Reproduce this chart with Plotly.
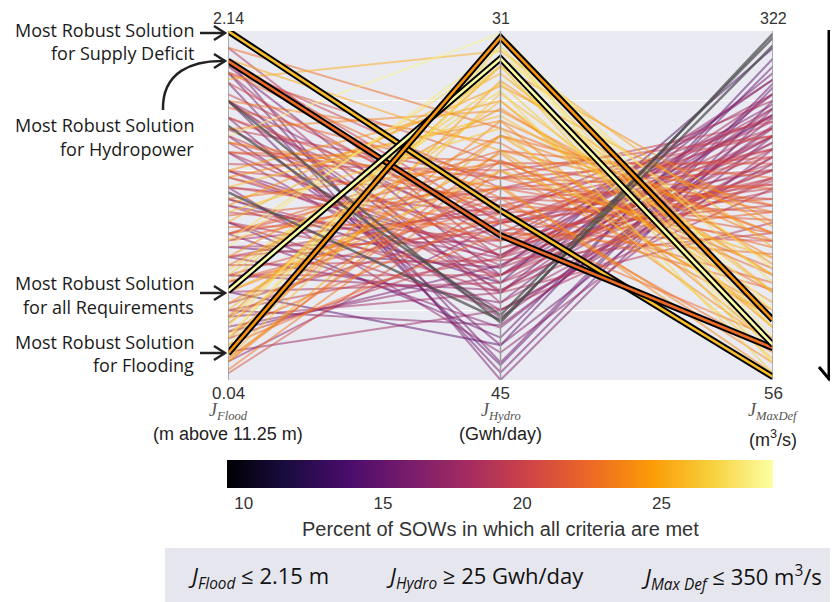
import plotly.graph_objects as go
from plotly.colors import sample_colorscale

# page is 838x602; the page body adds an 8px margin, so the figure itself is 830x594
OFF = 8
W, H = 838 - OFF, 602 - OFF

# ---------------- data ----------------
axis_labels = ["Flood", "Hydro", "MaxDef"]
axis_units = ["(m above 11.25 m)", "(Gwh/day)", "(m<sup>3</sup>/s)"]
axis_bottom = [0.04, 45, 56]     # value at the bottom of each axis (preferred end)
axis_top = [2.14, 31, 322]       # value at the top of each axis

flood = [0.40, 0.30, 0.67, 0.46, 0.25, 0.99, 1.20, 0.84, 0.15, 0.70, 1.97, 0.57, 0.36, 1.05, 1.51, 1.85,
         0.78, 0.29, 1.30, 1.72, 0.50, 0.88, 0.21, 1.13, 1.47, 2.04, 0.63, 0.42, 0.96, 1.55, 0.10, 1.26,
         1.89, 0.73, 0.33, 1.09, 1.41, 0.57, 1.68, 0.25, 0.92,
         1.20, 1.51, 0.67, 1.83, 0.99, 1.34, 0.46, 1.62, 0.84, 1.93, 1.09, 1.41, 0.63, 1.72, 1.03, 1.26,
         0.78, 2.04, 0.92, 0.29, 1.47, 1.13, 0.57, 1.76, 1.30, 0.73, 1.55, 1.05, 1.89, 0.88,
         1.89, 1.97, 0.99, 1.51, 0.78, 1.20, 1.72, 0.92, 0.36, 0.57, 1.41, 1.83, 1.93, 0.67, 1.72, 0.46,
         1.62, 0.84, 0.21, 1.13, 1.30, 0.15, 0.33, 0.08, 0.17, 0.42,
         1.30, 1.62, 0.78, 1.89, 1.09, 0.50, 1.47, 0.92, 1.72, 0.67, 1.20, 1.97, 0.42, 1.41, 0.99, 1.55,
         0.29, 0.63, 0.17, 0.88, 0.38, 1.26, 0.15]
hydro = [32.4, 31.3, 33.1, 33.8, 32.1, 32.7, 34.4, 31.7, 35.2, 33.4, 35.8, 36.6, 31.4, 34.9, 31.1, 31.8,
         34.1, 34.6, 33.8, 35.5, 35.9, 36.9, 33.0, 36.3, 37.3, 34.9, 38.0, 32.4, 38.7, 34.2, 36.6, 39.4,
         37.7, 35.2, 38.3, 33.2, 36.2, 37.2, 36.9, 39.1, 35.8,
         38.7, 39.7, 37.7, 39.1, 40.8, 36.6, 40.1, 38.3, 39.4, 37.3, 41.5, 40.4, 38.6, 41.1, 37.3, 40.0,
         39.0, 40.1, 36.3, 39.7, 38.0, 40.5, 41.1, 38.6, 37.7, 40.2, 36.9, 39.4, 36.3, 38.3,
         44.3, 45.0, 43.3, 42.5, 41.9, 43.9, 41.5, 42.9, 40.8, 43.6, 42.2, 44.7, 40.8, 41.4, 44.4, 42.8,
         43.6, 40.5, 42.2, 41.1, 40.0, 38.7, 40.4, 37.7, 36.2, 37.3,
         40.8, 39.1, 38.0, 41.9, 40.1, 38.7, 41.4, 37.3, 39.4, 40.8, 38.3, 38.7, 41.5, 36.9, 42.2, 40.0,
         31.6, 32.4, 33.5, 32.0, 35.2, 34.6, 35.8]
maxdef = [83, 69, 96, 109, 77, 123, 136, 88, 115, 61, 104, 149, 130, 72, 109, 157,
          136, 162, 96, 123, 83, 157, 144, 109, 69, 168, 130, 176, 88, 149, 104, 184,
          77, 189, 125, 173, 141, 61, 202, 152, 210,
          202, 221, 184, 162, 232, 242, 210, 194, 253, 216, 176, 237, 226, 208, 168, 263,
          189, 248, 221, 200, 178, 216, 242, 232, 205, 168, 253, 210, 189, 269,
          282, 263, 295, 248, 274, 232, 290, 256, 242, 301, 221, 269, 258, 237, 279, 250,
          242, 285, 226, 309, 266, 216, 258, 162, 136, 194,
          274, 258, 232, 226, 285, 248, 210, 242, 274, 216, 256, 205, 263, 226, 202, 242,
          96, 69, 123, 141, 168, 83, 184]
score = [27, 28, 26.5, 26, 27.5, 25.5, 26, 28, 25, 27, 25, 25.5, 27.5, 26.5, 28.5, 25.5,
         24, 23.5, 24.5, 23, 24, 22.5, 24.5, 23, 23.5, 22.5, 22, 24, 22.5, 23.5, 23, 22,
         22.5, 23, 22.5, 24.5, 22, 24, 22, 22.5, 22,
         20, 19.5, 21, 20.5, 19, 20, 19.5, 21, 18.5, 20, 19, 18.5, 20.5, 19, 21.5, 18,
         20, 19, 21, 19.5, 21.5, 19, 18.5, 20, 20.5, 19.5, 19.5, 20, 21, 18.5,
         15.5, 16, 15, 16.5, 16, 17, 15.5, 16.5, 17, 14.5, 17, 15.5, 16, 17, 15, 16.5,
         16, 15.5, 17.5, 14, 16.5, 17.5, 16, 21, 22.5, 20.5,
         18, 18.5, 19.5, 18, 17.5, 19, 19, 20, 17.5, 19.5, 19, 20, 18, 20.5, 18.5, 19,
         27, 26.5, 26, 27.5, 23.5, 24, 23]

gray_flood = [1.72, 1.57, 1.17]
gray_hydro = [42.7, 42.4, 42.6]
gray_maxdef = [320, 317, 311]

hl_names = ["Supply Deficit", "Hydropower", "all Requirements", "Flooding"]
hl_flood = [2.14, 1.96, 0.575, 0.20]
hl_hydro = [38.2, 39.2, 32.1, 31.25]
hl_maxdef = [58.3, 80.4, 82.7, 101.7]
hl_score = [26.0, 22.5, 29.0, 24.3]

score_min, score_max = 9.4, 29.0
cbar_ticks = [10, 15, 20, 25]

# ---------------- helpers ----------------
def norm(vals):
    return [(v - b) / (t - b) for v, b, t in zip(vals, axis_bottom, axis_top)]

def col(s):
    return sample_colorscale("Inferno", [(s - score_min) / (score_max - score_min)])[0]

def px(x):   # page pixel -> paper fraction
    return (x - OFF) / W

def py(y):
    return 1 - (y - OFF) / H

fig = go.Figure()
X = [0, 1, 2]

order = sorted(range(len(score)), key=lambda i: score[i])
for i in order:
    fig.add_trace(go.Scatter(x=X, y=norm([flood[i], hydro[i], maxdef[i]]), mode="lines",
                             line=dict(color=col(score[i]), width=2), opacity=0.5,
                             hoverinfo="skip", showlegend=False))
for i in range(len(gray_flood)):
    fig.add_trace(go.Scatter(x=X, y=norm([gray_flood[i], gray_hydro[i], gray_maxdef[i]]), mode="lines",
                             line=dict(color="#4a4a4a", width=2.5), opacity=0.7,
                             hoverinfo="skip", showlegend=False))
for i in range(len(hl_flood)):
    yy = norm([hl_flood[i], hl_hydro[i], hl_maxdef[i]])
    fig.add_trace(go.Scatter(x=X, y=yy, mode="lines", line=dict(color="black", width=6.5),
                             hoverinfo="skip", showlegend=False))
    fig.add_trace(go.Scatter(x=X, y=yy, mode="lines", line=dict(color=col(hl_score[i]), width=2.6),
                             name=hl_names[i], showlegend=False))

# colorbar carrier (point kept outside the visible range)
fig.add_trace(go.Scatter(x=[1], y=[-5], mode="markers", hoverinfo="skip", showlegend=False,
                         marker=dict(color=[20], colorscale="Inferno", cmin=score_min, cmax=score_max,
                                     size=1, showscale=True,
                                     colorbar=dict(orientation="h", x=px(227), xanchor="left",
                                                   y=py(460), yanchor="top", len=546, lenmode="pixels",
                                                   thickness=28, thicknessmode="pixels", outlinewidth=0,
                                                   xpad=0, ypad=0, tickvals=cbar_ticks, ticks="",
                                                   tickfont=dict(family="Liberation Sans", size=17,
                                                                 color="#333")))))

shapes = []
for xi in X:
    shapes.append(dict(type="line", xref="x", yref="y", x0=xi, x1=xi, y0=0, y1=1,
                       line=dict(color="#9a9a9a", width=1.5), layer="above"))

ann = []
num_font = dict(family="Liberation Sans", size=16, color="#333")
for xi in X:
    ann.append(dict(x=xi, y=1, xref="x", yref="y", text=f"{axis_top[xi]:g}", showarrow=False,
                    xanchor="center", yanchor="middle", yshift=12, font=num_font))
    ann.append(dict(x=xi, y=0, xref="x", yref="y", text=f"{axis_bottom[xi]:g}", showarrow=False,
                    xanchor="center", yanchor="middle", yshift=-13,
                    font=dict(family="Liberation Sans", size=17, color="#333")))
    ann.append(dict(x=xi, y=0, xref="x", yref="y",
                    text=f"<i>J</i><sub><i>{axis_labels[xi]}</i></sub>", showarrow=False,
                    xanchor="center", yanchor="middle", yshift=-31, borderpad=0,
                    font=dict(family="Liberation Serif", size=18, color="#555")))
    ann.append(dict(x=xi, y=0, xref="x", yref="y", text=axis_units[xi], showarrow=False,
                    xanchor="center", yanchor="middle", yshift=-54 - (4 if xi == 2 else 0),
                    borderpad=0, font=dict(family="Liberation Sans", size=18, color="#222")))

left_font = dict(family="Open Sans", size=18, color="#1a1a1a")
left_lines = [("Most Robust Solution", 30), ("for Supply Deficit", 53),
              ("Most Robust Solution", 125), ("for Hydropower", 149),
              ("Most Robust Solution", 283), ("for all Requirements", 307),
              ("Most Robust Solution", 342), ("for Flooding", 365)]
for t, yv in left_lines:
    ann.append(dict(x=px(196), y=py(yv), xref="paper", yref="paper", text=t, showarrow=False,
                    xanchor="right", yanchor="middle", font=left_font))

arrow_line = dict(color="#222", width=2.5)
for yv in [33, 293, 353]:
    shapes.append(dict(type="line", xref="paper", yref="paper", x0=px(200), x1=px(225),
                       y0=py(yv), y1=py(yv), line=arrow_line))
    shapes.append(dict(type="path", xref="paper", yref="paper",
                       path=f"M {px(214)},{py(yv-7)} L {px(225)},{py(yv)} L {px(214)},{py(yv+7)}",
                       line=arrow_line))
# curved arrow for hydropower
shapes.append(dict(type="path", xref="paper", yref="paper",
                   path=f"M {px(163)},{py(110)} C {px(162)},{py(72)} {px(192)},{py(60)} {px(225)},{py(61)}",
                   line=arrow_line))
shapes.append(dict(type="path", xref="paper", yref="paper",
                   path=f"M {px(214)},{py(54)} L {px(225)},{py(61)} L {px(214)},{py(68)}",
                   line=arrow_line))

# preferred-direction arrow on the right
shapes.append(dict(type="line", xref="paper", yref="paper", x0=px(829), x1=px(829), y0=py(30), y1=py(378),
                   line=dict(color="black", width=3)))
shapes.append(dict(type="path", xref="paper", yref="paper",
                   path=f"M {px(819)},{py(367)} L {px(829)},{py(379)} L {px(837)},{py(367)}",
                   line=dict(color="black", width=3)))

ann.append(dict(x=px(500), y=py(529), xref="paper", yref="paper",
                text="Percent of SOWs in which all criteria are met", showarrow=False,
                xanchor="center", yanchor="middle",
                font=dict(family="Liberation Sans", size=20, color="#333")))

# bottom requirement box
shapes.append(dict(type="rect", xref="paper", yref="paper", x0=px(165), x1=1, y0=0, y1=py(548),
                   fillcolor="#E6E6EE", line=dict(width=0), layer="below"))
req_font = dict(family="Open Sans", size=22, color="#111")
reqs = [("<i>J</i><sub><i>Flood</i></sub> ≤ 2.15 m", 258),
        ("<i>J</i><sub><i>Hydro</i></sub> ≥ 25 Gwh/day", 485),
        ("<i>J</i><sub><i>Max Def</i></sub> ≤ 350 m<sup>3</sup>/s", 731)]
for t, xv in reqs:
    ann.append(dict(x=px(xv), y=py(577), xref="paper", yref="paper", text=t, showarrow=False,
                    xanchor="center", yanchor="middle", font=req_font))

fig.update_layout(
    width=W, height=H, margin=dict(l=0, r=0, t=0, b=0),
    paper_bgcolor="white", plot_bgcolor="#EAEAF2", showlegend=False,
    xaxis=dict(domain=[px(228), px(773)], range=[0, 2], showgrid=False, zeroline=False,
               showticklabels=False, fixedrange=True),
    yaxis=dict(domain=[py(380), py(31)], range=[0, 1], tickvals=[0.2, 0.4, 0.6, 0.8],
               gridcolor="white", gridwidth=1, showticklabels=False, zeroline=False, fixedrange=True),
    shapes=shapes, annotations=ann,
)

fig.write_html("out.html")
